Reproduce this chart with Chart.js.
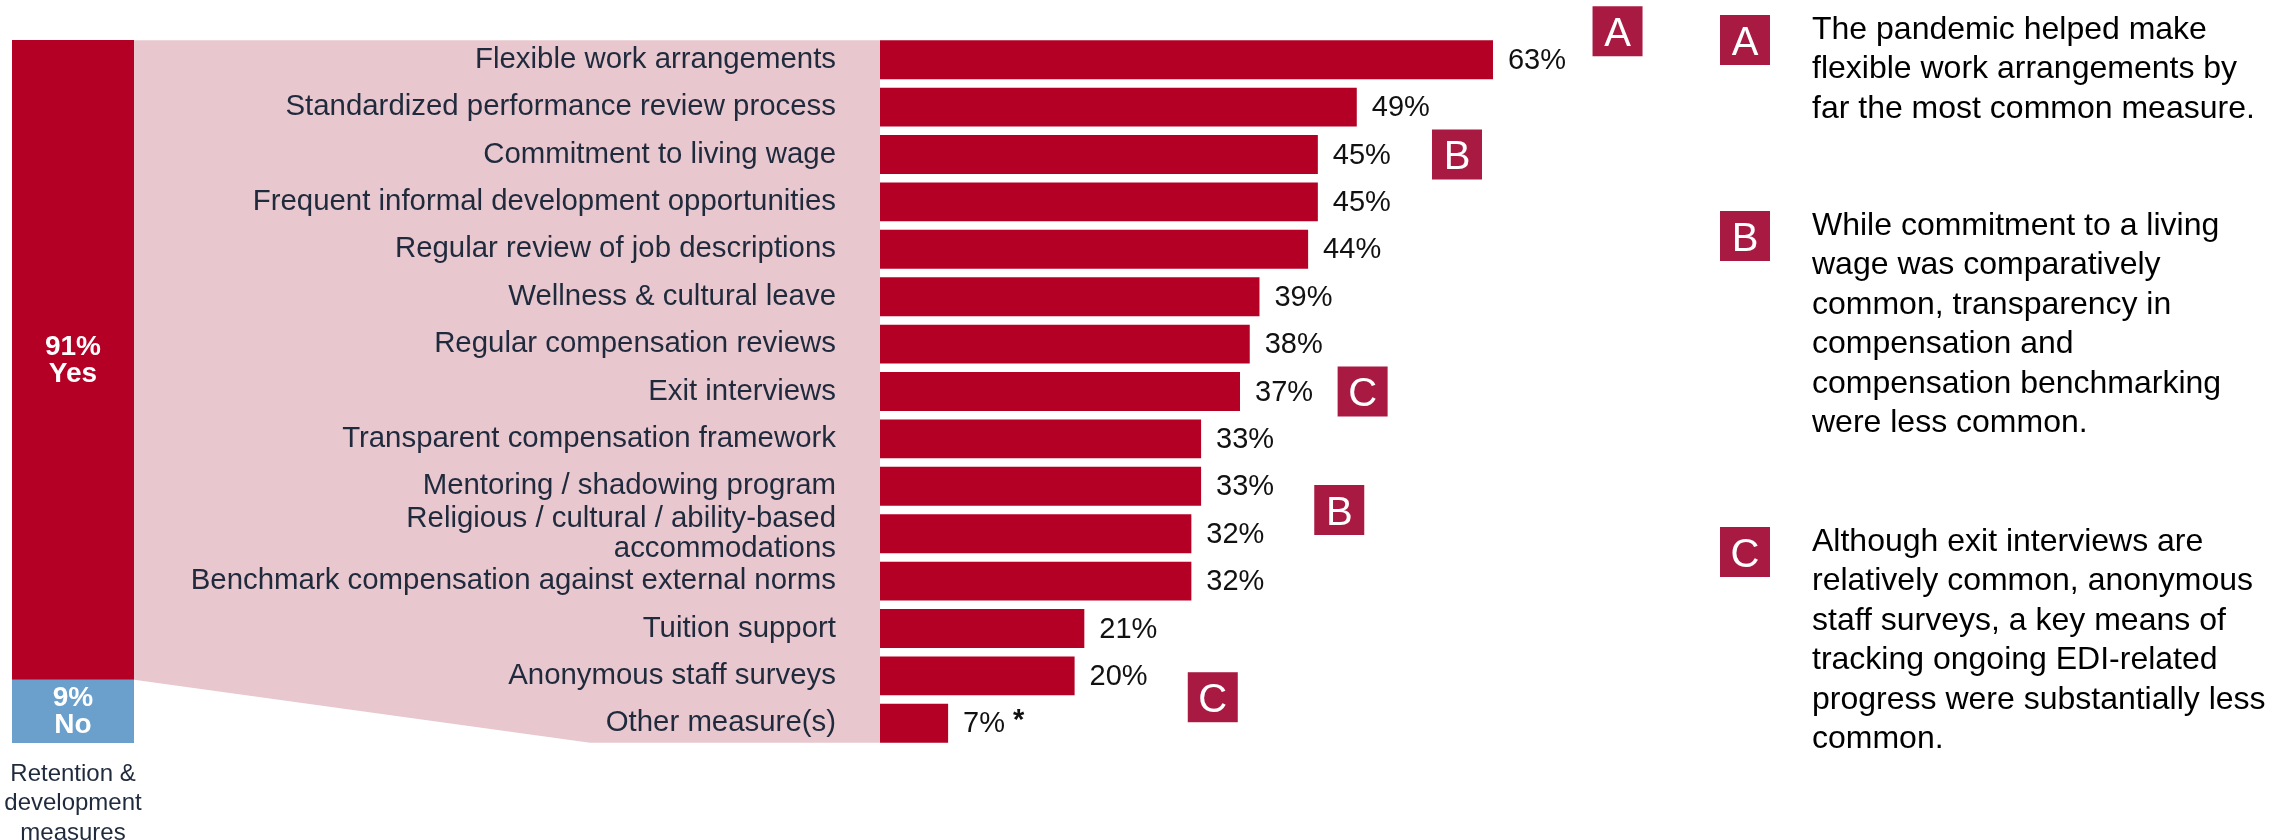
<!DOCTYPE html>
<html>
<head>
<meta charset="utf-8">
<script src="https://cdn.jsdelivr.net/npm/chart.js@4.4.1/dist/chart.umd.min.js"></script>
<style>
  body { margin: 0; background: #fff; }
  #wrap { position: relative; width: 2288px; height: 840px; }
  #wrap canvas { position: absolute; left: 0; top: 0; }
</style>
</head>
<body>
<div id="wrap">
  <canvas id="measuresChart" width="2288" height="840"></canvas>
  <canvas id="splitChart" width="150" height="840"></canvas>
</div>
<script>
// share of respondents with any retention & development measure
const splitNames = ['Yes', 'No'];
const splitShares = [91, 9];

// measures, in percent of respondents
const measureLabels = [
  'Flexible work arrangements',
  'Standardized performance review process',
  'Commitment to living wage',
  'Frequent informal development opportunities',
  'Regular review of job descriptions',
  'Wellness & cultural leave',
  'Regular compensation reviews',
  'Exit interviews',
  'Transparent compensation framework',
  'Mentoring / shadowing program',
  ['Religious / cultural / ability-based', 'accommodations'],
  'Benchmark compensation against external norms',
  'Tuition support',
  'Anonymous staff surveys',
  'Other measure(s)'
];
const measureShares = [63, 49, 45, 45, 44, 39, 38, 37, 33, 33, 32, 32, 21, 20, 7];
const footnoteMarks = ['', '', '', '', '', '', '', '', '', '', '', '', '', '', '*'];

const captionLines = ['Retention &', 'development', 'measures'];

const noteLetters = ['A', 'B', 'C'];
const noteTexts = [
  ['The pandemic helped make', 'flexible work arrangements by', 'far the most common measure.'],
  ['While commitment to a living', 'wage was comparatively', 'common, transparency in',
   'compensation and', 'compensation benchmarking', 'were less common.'],
  ['Although exit interviews are', 'relatively common, anonymous', 'staff surveys, a key means of',
   'tracking ongoing EDI-related', 'progress were substantially less', 'common.']
];

const RED = '#B40024';
const PINK = '#E8C7CE';
const BLUE = '#6BA0CD';
const MARK = '#A91A43';
const INK = '#1F2A3D';
const FONT = "'Liberation Sans', Arial, sans-serif";

Chart.defaults.font.family = FONT;

// white text inside the Yes / No segments plus the caption under the bar
const splitText = {
  id: 'splitText',
  afterDatasetsDraw(chart) {
    const ctx = chart.ctx;
    ctx.save();
    ctx.textAlign = 'center';
    ctx.textBaseline = 'middle';
    chart.data.datasets.forEach((ds, i) => {
      const bar = chart.getDatasetMeta(i).data[0];
      const mid = (bar.y + bar.base) / 2;
      ctx.fillStyle = '#fff';
      ctx.font = 'bold 28px ' + FONT;
      ctx.fillText(ds.data[0] + '%', bar.x, mid - 13);
      ctx.fillText(ds.label, bar.x, mid + 14);
    });
    const cx = (chart.chartArea.left + chart.chartArea.right) / 2;
    ctx.fillStyle = INK;
    ctx.font = '24px ' + FONT;
    captionLines.forEach((line, i) => ctx.fillText(line, cx, 774 + i * 29.5));
    ctx.restore();
  }
};

const splitChart = new Chart(document.getElementById('splitChart'), {
  type: 'bar',
  data: {
    labels: [''],
    // stacked from the bottom, so "No" goes first
    datasets: [
      { label: splitNames[1], data: [splitShares[1]], backgroundColor: BLUE },
      { label: splitNames[0], data: [splitShares[0]], backgroundColor: RED }
    ]
  },
  options: {
    responsive: false,
    animation: false,
    layout: { padding: { left: 12, right: 16, top: 40, bottom: 97 } },
    datasets: { bar: { categoryPercentage: 1, barPercentage: 1 } },
    plugins: { legend: { display: false }, tooltip: { enabled: false } },
    scales: {
      x: { display: false, stacked: true },
      y: { display: false, stacked: true, min: 0, max: 100 }
    }
  },
  plugins: [splitText]
});

// pink wedge joining the "Yes" segment to the list of measures,
// painted before the axis so the labels sit on top of it
const wedge = {
  id: 'wedge',
  beforeDraw(chart) {
    const ctx = chart.ctx;
    const bars = chart.getDatasetMeta(0).data;
    const top = bars[0].y - bars[0].height / 2;
    const last = bars[bars.length - 1];
    const bottom = last.y + last.height / 2;
    const sa = splitChart.chartArea;
    const yesFloor = splitChart.scales.y.getPixelForValue(splitShares[1]);
    const left = chart.chartArea.left;
    ctx.save();
    ctx.fillStyle = PINK;
    ctx.beginPath();
    ctx.moveTo(sa.right, top);
    ctx.lineTo(left, top);
    ctx.lineTo(left, bottom);
    ctx.lineTo(590, bottom);
    ctx.lineTo(sa.right, yesFloor);
    ctx.closePath();
    ctx.fill();
    ctx.restore();
  }
};

function letterBox(ctx, letter, x, y) {
  ctx.fillStyle = MARK;
  ctx.fillRect(x, y, 50, 50);
  ctx.fillStyle = '#fff';
  ctx.font = '40px ' + FONT;
  ctx.textAlign = 'center';
  ctx.textBaseline = 'alphabetic';
  ctx.fillText(letter, x + 25, y + 25 + 14.5);
}

// value labels, callout boxes beside the bars and the notes on the right
const labelsAndNotes = {
  id: 'labelsAndNotes',
  afterDatasetsDraw(chart) {
    const ctx = chart.ctx;
    const xs = chart.scales.x;
    const ys = chart.scales.y;
    ctx.save();
    ctx.textBaseline = 'middle';
    ctx.textAlign = 'left';
    chart.getDatasetMeta(0).data.forEach((bar, i) => {
      const txt = measureShares[i] + '%';
      ctx.fillStyle = '#111';
      ctx.font = '29px ' + FONT;
      const x = bar.x + 15;
      ctx.fillText(txt, x, bar.y + 1);
      if (footnoteMarks[i]) {
        const w = ctx.measureText(txt + ' ').width;
        ctx.font = 'bold 29px ' + FONT;
        ctx.fillText(footnoteMarks[i], x + w, bar.y - 2);
      }
    });

    // callouts: row on the category axis, centre on the value axis
    const spots = [
      { letter: 'A', row: -0.6, at: 75.8 },
      { letter: 'B', row: 2, at: 59.3 },
      { letter: 'C', row: 7, at: 49.6 },
      { letter: 'B', row: 9.5, at: 47.2 },
      { letter: 'C', row: 13.45, at: 34.2 }
    ];
    spots.forEach(s => {
      letterBox(ctx, s.letter, xs.getPixelForValue(s.at) - 25, ys.getPixelForValue(s.row) - 25);
    });

    // notes panel
    const noteTops = [15, 211, 527];
    noteLetters.forEach((letter, i) => {
      letterBox(ctx, letter, 1720, noteTops[i]);
      ctx.fillStyle = '#000';
      ctx.font = '32px ' + FONT;
      ctx.textAlign = 'left';
      ctx.textBaseline = 'alphabetic';
      noteTexts[i].forEach((line, j) => {
        ctx.fillText(line, 1812, noteTops[i] + 24 + j * 39.4);
      });
    });
    ctx.restore();
  }
};

new Chart(document.getElementById('measuresChart'), {
  type: 'bar',
  data: {
    labels: measureLabels,
    datasets: [{
      data: measureShares,
      backgroundColor: RED,
      categoryPercentage: 1,
      barPercentage: 0.82
    }]
  },
  options: {
    indexAxis: 'y',
    responsive: false,
    animation: false,
    layout: { padding: { left: 0, right: 435, top: 36, bottom: 93 } },
    plugins: { legend: { display: false }, tooltip: { enabled: false } },
    scales: {
      x: { display: false, min: 0, max: 100 },
      y: {
        grid: { display: false, drawTicks: false },
        border: { display: false },
        ticks: {
          autoSkip: false,
          padding: 44,
          color: INK,
          font: { size: 29.4, lineHeight: 1.02 }
        },
        afterFit(scale) {
          scale.width = 880;
          scale.paddingTop = 0;
          scale.paddingBottom = 0;
        }
      }
    }
  },
  plugins: [wedge, labelsAndNotes]
});
</script>
</body>
</html>
